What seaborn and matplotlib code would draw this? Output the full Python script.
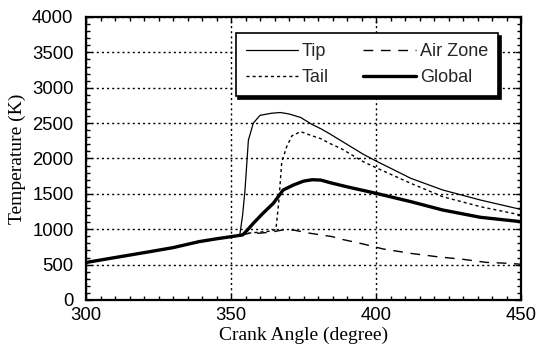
import matplotlib
matplotlib.use("Agg")
import matplotlib.pyplot as plt
from matplotlib.ticker import MultipleLocator
import seaborn as sns

# Crank angle (degree) and temperature (K) for each zone
tip_angle = [300, 310, 322, 330, 339, 345, 350, 353, 354, 354.8, 356, 357.7, 360,
             364, 367, 370, 374, 378, 381, 384, 388, 395.6, 400, 412, 423, 436, 450]
tip_temp = [530, 600, 683, 740, 825, 865, 895, 910, 1200, 1540, 2261, 2500, 2610,
            2640, 2650, 2630, 2580, 2480, 2420, 2350, 2250, 2060, 1965, 1720, 1555, 1413, 1280]

tail_angle = [300, 310, 322, 330, 339, 345, 350, 353, 356, 360, 364, 365.5, 366.5,
              367.5, 369.2, 371, 374, 378, 381, 384, 388, 395.6, 400, 412, 423, 436, 450]
tail_temp = [530, 600, 683, 740, 825, 865, 895, 910, 945, 960, 975, 1000, 1400,
             1950, 2167, 2320, 2380, 2320, 2280, 2214, 2140, 1955, 1870, 1649, 1460, 1319, 1201]

air_angle = [300, 310, 322, 330, 339, 345, 350, 353, 356, 360, 364, 369, 372, 377,
             385, 388, 395.6, 402.5, 412, 421, 430, 438, 446, 450]
air_temp = [530, 600, 683, 740, 825, 865, 895, 910, 940, 945, 960, 1000, 985, 945,
            895, 860, 791, 721, 659, 612, 575, 532, 518, 505]

global_angle = [300, 310, 322, 330, 339, 345, 350, 354, 355, 357.7, 361, 364.6, 368,
                371.5, 375, 378, 381, 384, 390, 400, 412, 423, 436, 450]
global_temp = [530, 600, 683, 740, 825, 865, 895, 920, 960, 1084, 1225, 1367, 1555,
               1625, 1680, 1700, 1695, 1660, 1600, 1508, 1390, 1272, 1169, 1107]

x_ticks = [300, 350, 400, 450]
y_ticks = [0, 500, 1000, 1500, 2000, 2500, 3000, 3500, 4000]

sns.set_theme(style="ticks")
plt.rcParams["font.family"] = ["Liberation Sans", "DejaVu Sans"]

fig = plt.figure(figsize=(5.36, 3.51), dpi=100)
ax = fig.add_axes([86 / 536, (351 - 300) / 351, 435 / 536, 283 / 351])

sns.lineplot(x=tip_angle, y=tip_temp, ax=ax, color="black", lw=0.9,
             estimator=None, sort=False, label="Tip")
sns.lineplot(x=tail_angle, y=tail_temp, ax=ax, color="black", lw=1.0,
             estimator=None, sort=False, label="Tail")
sns.lineplot(x=air_angle, y=air_temp, ax=ax, color="black", lw=1.0,
             estimator=None, sort=False, label="Air Zone")
sns.lineplot(x=global_angle, y=global_temp, ax=ax, color="black", lw=2.4,
             estimator=None, sort=False, label="Global")

lines = ax.get_lines()
lines[1].set_dashes((2.2, 2.2))
lines[2].set_dashes((7, 5.5))

ax.set_xlim(300, 450)
ax.set_ylim(0, 4000)
ax.set_xticks(x_ticks)
ax.set_yticks(y_ticks)
ax.xaxis.set_minor_locator(MultipleLocator(5))
ax.yaxis.set_minor_locator(MultipleLocator(100))
ax.tick_params(which="both", direction="in", top=True, right=True,
               color="black", width=1.0)
ax.tick_params(which="major", length=4)
ax.tick_params(which="minor", length=3)
ax.tick_params(axis="x", which="major", labelsize=13.3, pad=5, labelcolor="black")
ax.tick_params(axis="y", which="major", labelsize=13.3, pad=9, labelcolor="black")

ax.grid(True, which="major", color="black", lw=1.0, linestyle=(0, (1.5, 2.2)))
for sp in ax.spines.values():
    sp.set_visible(True)
    sp.set_color("black")
    sp.set_linewidth(1.6)

ax.set_xlabel("Crank Angle (degree)", fontsize=14, family="Liberation Serif",
              color="black", labelpad=2)
ax.set_ylabel("Temperature (K)", fontsize=14, family="Liberation Serif",
              color="black", labelpad=4)

leg = ax.legend(loc="upper left", bbox_to_anchor=(0.344, 0.942), ncol=2,
                fontsize=13, frameon=True, fancybox=False, framealpha=1,
                edgecolor="black", handlelength=2.9, handletextpad=0.22,
                columnspacing=1.9, borderpad=0.55, labelspacing=0.5,
                borderaxespad=0, shadow={"color": "black", "alpha": 1})
leg.get_frame().set_linewidth(1.2)

fig.savefig("out.png", dpi=100, facecolor="white")
